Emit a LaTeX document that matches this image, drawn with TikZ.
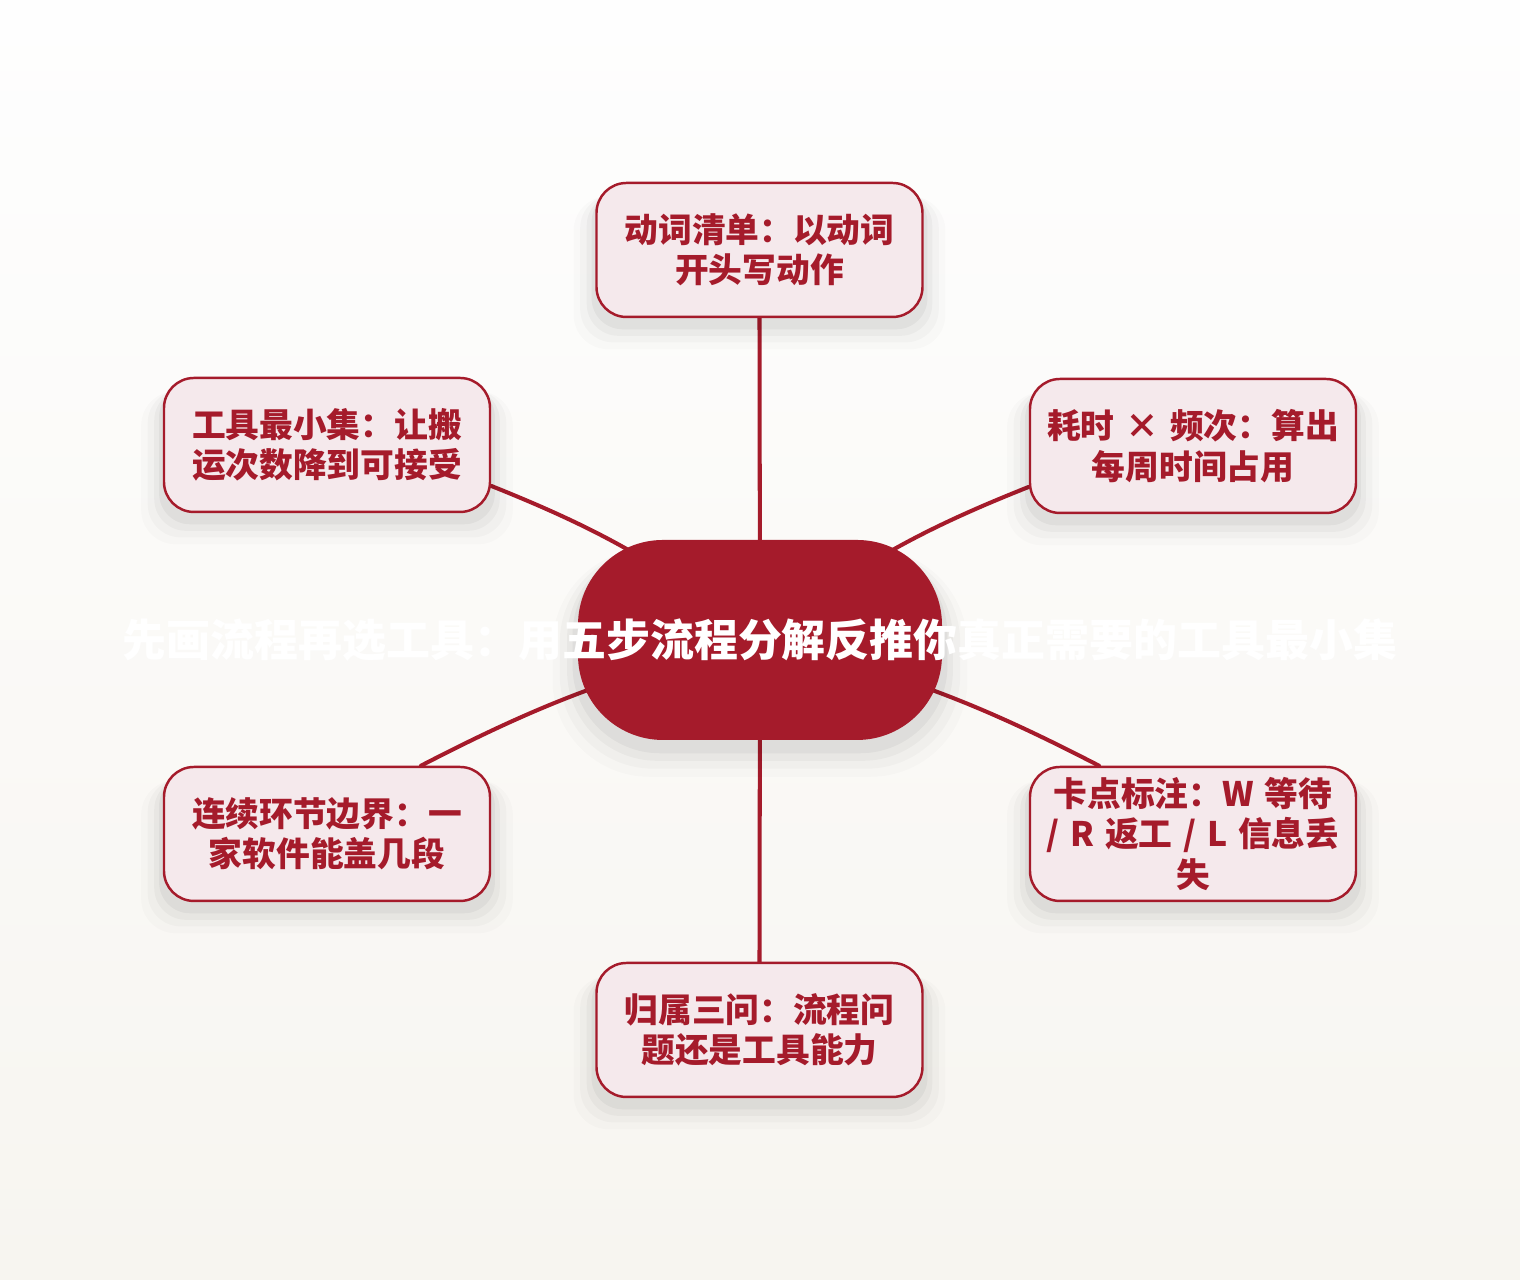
\documentclass[tikz,border=0pt]{standalone}
\usepackage{fontspec}
\setmainfont{Noto Sans CJK SC}[WordSpace=1.4]
\usetikzlibrary{shadows}
\definecolor{deepred}{HTML}{A51B2B}
\definecolor{palepink}{HTML}{F5E9EC}
\definecolor{topbg}{HTML}{FEFEFE}
\definecolor{bottombg}{HTML}{F7F5F0}
\pgfdeclarelayer{bg}
\pgfdeclarelayer{links}
\pgfsetlayers{bg,links,main}
\begin{document}
\begin{tikzpicture}[
  softshadow/.style={
    general shadow={shadow yshift=-0.20cm, shadow scale=1.14, fill=black, opacity=0.016},
    general shadow={shadow yshift=-0.17cm, shadow scale=1.10, fill=black, opacity=0.022},
    general shadow={shadow yshift=-0.14cm, shadow scale=1.06, fill=black, opacity=0.03},
    general shadow={shadow yshift=-0.10cm, shadow scale=1.03, fill=black, opacity=0.038}},
  leaf/.style={softshadow, draw=deepred, line width=0.7pt, fill=palepink, rounded corners=0.3cm,
    minimum width=3.26cm, minimum height=1.34cm, inner sep=0pt, align=center, text=deepred,
    font=\fontsize{9.6}{11.5}\selectfont\bfseries},
  hub/.style={softshadow, fill=deepred, rounded corners=0.85cm, minimum width=3.64cm, minimum height=2cm},
  hubtext/.style={text=white, font=\fontsize{12.5}{15}\selectfont\bfseries, inner sep=0pt},
  link/.style={draw=deepred, line width=1.15pt, line cap=round}]
\useasboundingbox (0,0) rectangle (15.2,12.8);
\begin{pgfonlayer}{bg}
\shade[top color=topbg, bottom color=bottombg] (0,0) rectangle (15.2,12.8);
\end{pgfonlayer}
\node[hub] (hub) at (7.60,6.40) {};
\node[hubtext] (title) at (hub.center) {先画流程再选工具：用五步流程分解反推你真正需要的工具最小集};
\node[leaf] (verbs) at (7.595,10.30) {动词清单：以动词\\开头写动作};
\node[leaf] (cost) at (11.93,8.34) {耗时 × 频次：算出\\每周时间占用};
\node[leaf] (minset) at (3.27,8.35) {工具最小集：让搬\\运次数降到可接受};
\node[leaf] (span) at (3.27,4.46) {连续环节边界：一\\家软件能盖几段};
\node[leaf] (stuck) at (11.93,4.46) {卡点标注：W 等待\\/ R 返工 / L 信息丢\\失};
\node[leaf] (owner) at (7.595,2.50) {归属三问：流程问\\题还是工具能力};
\begin{pgfonlayer}{links}
\draw[link] (hub.center) -- (verbs.south);
\draw[link] (hub.center) to[bend left=8] (cost.194);
\draw[link] (hub.center) to[bend right=8] (minset.-14);
\draw[link] (hub.center) to[bend right=7] (span.36);
\draw[link] (hub.center) to[bend left=7] (stuck.144);
\draw[link] (hub.center) -- (owner.north);
\end{pgfonlayer}
\end{tikzpicture}
\end{document}
